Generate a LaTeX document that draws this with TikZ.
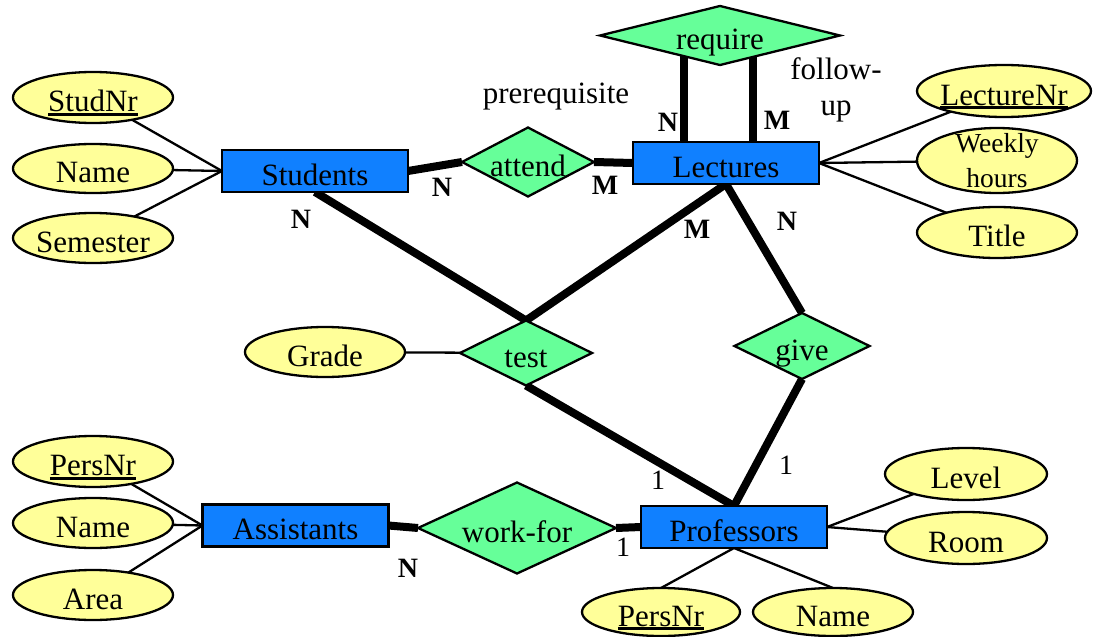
\documentclass[tikz,border=0pt]{standalone}
\usepackage{fontspec}
\setmainfont{Liberation Serif}
\usetikzlibrary{shapes.geometric,backgrounds}
\definecolor{entblue}{HTML}{1080FF}
\definecolor{relgreen}{HTML}{66FF99}
\definecolor{attyellow}{HTML}{FFFF99}
\newcommand\ctr[1]{\makebox[0pt]{#1}}
\newcommand\keyu[1]{\sbox0{#1}\rlap{\usebox0}\rule[-4pt]{\wd0}{2.8pt}}
\tikzset{
  basenode/.style={inner sep=0pt, outer sep=0pt, text height=28pt, text depth=0pt, font=\fontsize{31}{36}\selectfont},
  entity/.style={basenode, rectangle, draw, line width=2.5pt, fill=entblue, minimum width=186pt, minimum height=42pt},
  attr/.style={basenode, ellipse, draw, line width=2.3pt, fill=attyellow, minimum width=160pt, minimum height=50pt},
  rel/.style={basenode, diamond, draw, line width=2.3pt, fill=relgreen},
  attline/.style={line width=2.3pt},
  relline/.style={line width=8pt},
  card/.style={inner sep=0pt, font=\bfseries\fontsize{28}{30}\selectfont},
  onecard/.style={inner sep=0pt, font=\fontsize{28}{30}\selectfont},
  plain/.style={inner sep=0pt, font=\fontsize{31}{36}\selectfont},
}
\begin{document}
\begin{tikzpicture}[x=1pt,y=-1pt]
\useasboundingbox (0,0) rectangle (1104,637);
% entities
\node[entity] (stud) at (315,171) {\ctr{Students}};
\node[entity] (lect) at (726,163) {\ctr{Lectures}};
\node[entity] (asst) at (295.5,525.5) {\ctr{Assistants}};
\node[entity] (prof) at (734,527) {\ctr{Professors}};
% relationships
\node[rel, minimum width=240pt, minimum height=59pt] (req) at (720,35.5) {\ctr{require}};
\node[rel, minimum width=132pt, minimum height=69pt] (attend) at (528,162) {\ctr{attend}};
\node[rel, minimum width=132pt, minimum height=65pt] (test) at (526,353) {\ctr{test}};
\node[rel, minimum width=135pt, minimum height=66pt] (give) at (802,346) {\ctr{give}};
\node[rel, minimum width=198pt, minimum height=91pt] (workfor) at (517,528) {\ctr{work-for}};
% attributes
\node[attr, minimum height=51pt] (studnr) at (93,97.5) {\ctr{\keyu{StudNr}}};
\node[attr, minimum height=49pt] (sname) at (93,168.5) {\ctr{Name}};
\node[attr] (sem) at (93,238) {\ctr{Semester}};
\node[attr, minimum width=174pt, minimum height=52pt] (lnr) at (1004,91) {\ctr{\keyu{LectureNr}}};
\node[attr, minimum height=65pt] (whours) at (997,160.5) {\ctr{\raisebox{5pt}{\fontsize{27.5}{35}\selectfont\begin{tabular}{@{}c@{}}Weekly\\hours\end{tabular}}}};
\node[attr, minimum height=51pt] (title) at (997,232.5) {\ctr{Title}};
\node[attr] (grade) at (325,352) {\ctr{Grade}};
\node[attr, minimum height=51pt] (apers) at (93,461.5) {\ctr{\keyu{PersNr}}};
\node[attr] (aname) at (93,523) {\ctr{Name}};
\node[attr] (area) at (93,595) {\ctr{Area}};
\node[attr, minimum width=162pt, minimum height=52pt] (level) at (966,474) {\ctr{Level}};
\node[attr, minimum width=162pt, minimum height=52pt] (room) at (966,538) {\ctr{Room}};
\node[attr, minimum width=158pt, minimum height=48pt] (ppers) at (661,612) {\ctr{\keyu{PersNr}}};
\node[attr, minimum height=48pt] (pname) at (833,612) {\ctr{Name}};
% texts
\node[plain, anchor=base] (prereq) at (556,103) {prerequisite};
\node[plain, align=center] (follow) at (836,89.5) {follow-\\up};
% cardinalities
\node[card] (cN1) at (442,187) {N};
\node[card] (cM1) at (605,185) {M};
\node[card] (cN2) at (668,122) {N};
\node[card] (cM2) at (777,120) {M};
\node[card] (cN3) at (301,219) {N};
\node[card] (cM3) at (697,229) {M};
\node[card] (cN4) at (787,221) {N};
\node[card] (cN5) at (408,568) {N};
\node[onecard] (c11) at (658,480) {1};
\node[onecard] (c12) at (786,465) {1};
\node[onecard] (c13) at (623,547) {1};
% connectors
\path (lect.north) ++(-42,0) coordinate (rqN);
\path (lect.north) ++(27,0) coordinate (rqM);
\begin{scope}[on background layer]
\fill[white] (0,0) rectangle (1104,637);
\draw[attline] (studnr) -- (stud.west);
\draw[attline] (sname) -- (stud.west);
\draw[attline] (sem) -- (stud.west);
\draw[attline] (lect.east) -- (lnr);
\draw[attline] (lect.east) -- (whours);
\draw[attline] (lect.east) -- (title);
\draw[attline] (grade) -- (test);
\draw[attline] (asst.west) -- (apers);
\draw[attline] (asst.west) -- (aname);
\draw[attline] (asst.west) -- (area);
\draw[attline] (prof.east) -- (level);
\draw[attline] (prof.east) -- (room);
\draw[attline] (prof.south) -- (ppers.north);
\draw[attline] (prof.south) -- (pname.north);
\draw[relline] (stud.east) -- (attend.west);
\draw[relline] (attend.east) -- (lect.west);
\draw[relline] (rqN) -- (rqN |- req.center);
\draw[relline] (rqM) -- (rqM |- req.center);
\draw[relline] (stud.south) -- (test.north);
\draw[relline] (lect.south) -- (test.north);
\draw[relline] (test.south) -- (prof.north);
\draw[relline] (lect.south) -- (give.north);
\draw[relline] (give.south) -- (prof.north);
\draw[relline] (asst.east) -- (workfor.west);
\draw[relline] (workfor.east) -- (prof.west);
\end{scope}
\end{tikzpicture}
\end{document}
